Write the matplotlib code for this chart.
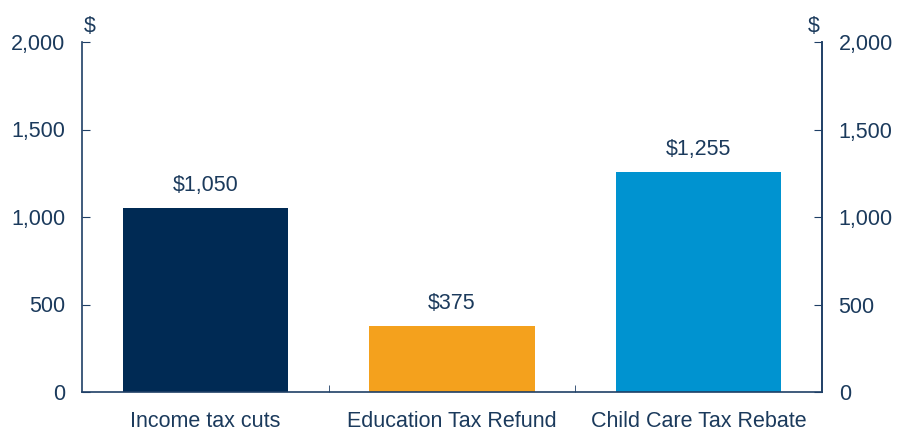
import matplotlib
matplotlib.use("Agg")
import matplotlib.pyplot as plt

categories = ["Income tax cuts", "Education Tax Refund", "Child Care Tax Rebate"]
values = [1050, 375, 1255]
labels = ["$1,050", "$375", "$1,255"]
colors = ["#002A54", "#F4A11D", "#0093D0"]
yticks = [0, 500, 1000, 1500, 2000]

plt.rcParams['font.family'] = ['Liberation Sans', 'DejaVu Sans']
txt = "#1B3A5C"
axc = "#1F3F66"
fs = 15.5

fig = plt.figure(figsize=(9.07, 4.32), dpi=100)
ax = fig.add_axes([82/907, 1-392/432, 740/907, 350/432])
x = range(len(categories))
ax.bar(x, values, width=0.67, color=colors)
for i, (v, l) in enumerate(zip(values, labels)):
    ax.text(i, v + 72, l, ha='center', va='bottom', fontsize=fs, color=txt)
ax.set_xlim(-0.5, 2.5)
ax.set_ylim(0, 2000)
ax.set_yticks(yticks)
ax.set_yticklabels([f"{t:,}" for t in yticks])
ax.set_xticks(list(x))
ax.set_xticklabels(categories)
ax.set_xticks([0.5, 1.5], minor=True)
ax.tick_params(axis='x', which='major', length=0, pad=13.5, labelsize=fs, labelcolor=txt)
ax.tick_params(axis='x', which='minor', direction='in', length=5, color=axc)
ax.tick_params(axis='y', direction='in', length=6, color=axc, labelsize=fs, labelcolor=txt, pad=12)
ax.spines['top'].set_visible(False)
for s in ['left', 'right', 'bottom']:
    ax.spines[s].set_color(axc)
    ax.spines[s].set_linewidth(1.2)

ax2 = ax.twinx()
ax2.set_ylim(0, 2000)
ax2.set_yticks(yticks)
ax2.set_yticklabels([f"{t:,}" for t in yticks])
ax2.tick_params(axis='y', direction='in', length=6, color=axc, labelsize=fs, labelcolor=txt, pad=12)
for s in ['top', 'left', 'bottom']:
    ax2.spines[s].set_visible(False)
ax2.spines['right'].set_color(axc)
ax2.spines['right'].set_linewidth(1.2)

fig.text(90/907, 1-26/432, "$", ha='center', va='center', fontsize=fs, color=txt)
fig.text(814/907, 1-26/432, "$", ha='center', va='center', fontsize=fs, color=txt)

fig.savefig("out.png", dpi=100)
